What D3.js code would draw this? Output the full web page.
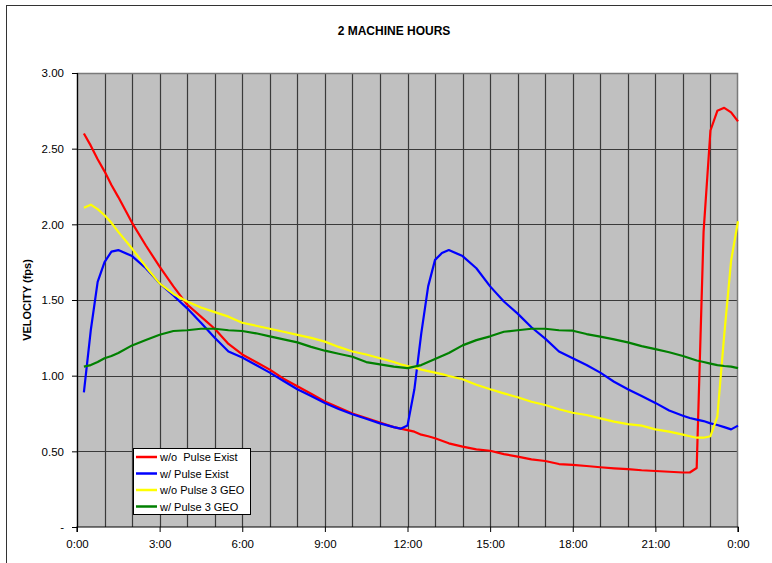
<!DOCTYPE html>
<html>
<head>
<meta charset="utf-8">
<script src="https://cdn.jsdelivr.net/npm/d3@7"></script>
<style>
  body { margin: 0; background: #fff; }
  text { font-family: "Liberation Sans", Arial, sans-serif; }
</style>
</head>
<body>
<div id="chart"></div>
<script>
// hours of the day (0:00 .. 24:00), finer steps where the curves jump
var hours = [0.25, 0.5, 0.75, 1, 1.25, 1.5, 2, 2.5, 3, 3.5, 4, 4.5, 5, 5.5, 6, 6.5, 7, 7.5, 8, 8.5,
  9, 9.5, 10, 10.5, 11, 11.5, 11.75, 12, 12.25, 12.5, 12.75, 13, 13.25, 13.5, 14, 14.5, 15, 15.5, 16, 16.5,
  17, 17.5, 18, 18.5, 19, 19.5, 20, 20.5, 21, 21.5, 22, 22.25, 22.5, 22.75, 23, 23.25, 23.5, 23.75, 24];

var woPulseExist = [2.60, 2.52, 2.43, 2.35, 2.26, 2.18, 2.01, 1.86, 1.72, 1.59, 1.47, 1.39, 1.31, 1.21, 1.14, 1.09, 1.04, 0.98, 0.93, 0.88,
  0.83, 0.79, 0.75, 0.72, 0.69, 0.66, 0.65, 0.64, 0.63, 0.61, 0.60, 0.586, 0.57, 0.553, 0.531, 0.513, 0.504, 0.482, 0.465, 0.447,
  0.436, 0.416, 0.41, 0.403, 0.395, 0.388, 0.383, 0.375, 0.37, 0.365, 0.36, 0.36, 0.39, 1.95, 2.62, 2.75, 2.77, 2.74, 2.68];

var wPulseExist = [0.89, 1.30, 1.62, 1.75, 1.82, 1.83, 1.79, 1.71, 1.61, 1.53, 1.445, 1.35, 1.25, 1.16, 1.12, 1.07, 1.02, 0.965, 0.91, 0.865,
  0.82, 0.78, 0.745, 0.715, 0.685, 0.66, 0.65, 0.67, 0.91, 1.28, 1.59, 1.765, 1.81, 1.83, 1.79, 1.71, 1.59, 1.49, 1.41, 1.32,
  1.245, 1.16, 1.115, 1.07, 1.02, 0.96, 0.91, 0.865, 0.82, 0.77, 0.735, 0.72, 0.71, 0.70, 0.685, 0.674, 0.66, 0.645, 0.67];

var woPulse3Geo = [2.11, 2.13, 2.10, 2.06, 2.01, 1.95, 1.84, 1.72, 1.61, 1.54, 1.49, 1.45, 1.42, 1.39, 1.35, 1.33, 1.31, 1.29, 1.27, 1.25,
  1.225, 1.19, 1.16, 1.14, 1.115, 1.09, 1.075, 1.064, 1.055, 1.04, 1.03, 1.02, 1.01, 0.998, 0.976, 0.94, 0.91, 0.883, 0.857, 0.828,
  0.806, 0.778, 0.755, 0.74, 0.718, 0.696, 0.68, 0.67, 0.645, 0.63, 0.61, 0.60, 0.59, 0.59, 0.60, 0.73, 1.27, 1.76, 2.02];

var wPulse3Geo = [1.06, 1.07, 1.09, 1.115, 1.13, 1.15, 1.20, 1.236, 1.27, 1.295, 1.30, 1.31, 1.31, 1.30, 1.295, 1.28, 1.26, 1.24, 1.22, 1.19,
  1.165, 1.145, 1.125, 1.09, 1.075, 1.06, 1.055, 1.05, 1.06, 1.07, 1.09, 1.11, 1.13, 1.15, 1.20, 1.235, 1.26, 1.29, 1.30, 1.31,
  1.31, 1.30, 1.297, 1.275, 1.258, 1.24, 1.22, 1.195, 1.175, 1.155, 1.13, 1.115, 1.10, 1.09, 1.08, 1.07, 1.064, 1.06, 1.05];

var seriesNames = ["w/o  Pulse Exist", "w/ Pulse Exist", "w/o Pulse 3 GEO", "w/ Pulse 3 GEO"];
var seriesValues = [woPulseExist, wPulseExist, woPulse3Geo, wPulse3Geo];
var colors = ["#ff0000", "#0000ff", "#ffff00", "#008000"];

var yTicks = [0, 0.5, 1, 1.5, 2, 2.5, 3];
var xTicks = [0, 3, 6, 9, 12, 15, 18, 21, 24];
var xTickLabels = ["0:00", "3:00", "6:00", "9:00", "12:00", "15:00", "18:00", "21:00", "0:00"];

var W = 772, H = 563;
var margin = {top: 73, right: 34, bottom: 36, left: 77};
var width = W - margin.left - margin.right;
var height = H - margin.top - margin.bottom;

var svg = d3.select("#chart").append("svg").attr("width", W).attr("height", H);

// outer chart border
svg.append("rect")
  .attr("x", 6.5).attr("y", 5.5)
  .attr("width", W + 10).attr("height", H + 10)
  .attr("fill", "none").attr("stroke", "#333").attr("stroke-width", 1);

svg.append("text")
  .attr("x", 394).attr("y", 35)
  .attr("text-anchor", "middle")
  .style("font-size", "12px").style("font-weight", "bold")
  .text("2 MACHINE HOURS");

svg.append("text")
  .attr("transform", "translate(31," + (margin.top + height / 2) + ") rotate(-90)")
  .attr("text-anchor", "middle")
  .style("font-size", "11px").style("font-weight", "bold")
  .text("VELOCITY (fps)");

var g = svg.append("g").attr("transform", "translate(" + margin.left + "," + margin.top + ")");

var x = d3.scaleLinear().domain([0, 24]).range([0, width]);
var y = d3.scaleLinear().domain([0, 3]).range([height, 0]);

// plot background
g.append("rect")
  .attr("width", width).attr("height", height)
  .attr("fill", "#c0c0c0");

// hourly vertical grid
g.selectAll(".vgrid")
  .data(d3.range(1, 24))
  .enter().append("line")
  .attr("class", "vgrid")
  .attr("x1", function (d) { return Math.round(x(d)) + 0.5; })
  .attr("x2", function (d) { return Math.round(x(d)) + 0.5; })
  .attr("y1", 0).attr("y2", height)
  .attr("stroke", "#3a3a3a").attr("stroke-width", 1.2);

// horizontal grid
g.selectAll(".hgrid")
  .data(yTicks.slice(1, -1))
  .enter().append("line")
  .attr("class", "hgrid")
  .attr("x1", 0).attr("x2", width)
  .attr("y1", function (d) { return Math.round(y(d)) + 0.5; })
  .attr("y2", function (d) { return Math.round(y(d)) + 0.5; })
  .attr("stroke", "#3a3a3a").attr("stroke-width", 1.2);

// plot frame (top/right grey)
g.append("path")
  .attr("d", "M0.5," + height + "V0.5H" + (width - 0.5) + "V" + height)
  .attr("fill", "none").attr("stroke", "#7a7a7a").attr("stroke-width", 1.5);

// axes
var yAxis = d3.axisLeft(y).tickValues(yTicks).tickSize(5).tickPadding(8)
  .tickFormat(function (d) { return d === 0 ? "-" : d3.format(".2f")(d); });
var xAxis = d3.axisBottom(x).tickValues(xTicks).tickSize(5).tickPadding(8)
  .tickFormat(function (d, i) { return xTickLabels[i]; });

var ya = g.append("g").call(yAxis);
var xa = g.append("g").attr("transform", "translate(0," + height + ")").call(xAxis);
[ya, xa].forEach(function (a) {
  a.select(".domain").attr("stroke", "#000").attr("stroke-width", 1.2);
  a.selectAll(".tick line").attr("stroke", "#000");
  a.selectAll("text").style("font-size", "11.5px").attr("fill", "#000")
    .style("font-family", "'Liberation Sans', Arial, sans-serif");
});
xa.select(".domain").attr("d", "M0,5V0H" + width + "V5");

// series lines
var line = d3.line()
  .x(function (d) { return x(d[0]); })
  .y(function (d) { return y(d[1]); });

seriesValues.forEach(function (vals, i) {
  var pts = hours.map(function (h, j) { return [h, vals[j]]; });
  g.append("path")
    .datum(pts)
    .attr("d", line)
    .attr("fill", "none")
    .attr("stroke", colors[i])
    .attr("stroke-width", 2.2)
    .attr("stroke-linejoin", "round");
});

// legend
var lg = svg.append("g").attr("transform", "translate(133,448)");
lg.append("rect")
  .attr("x", 0.5).attr("y", 0.5).attr("width", 117).attr("height", 66)
  .attr("fill", "#fff").attr("stroke", "#000").attr("stroke-width", 1);
seriesNames.forEach(function (name, i) {
  var ly = 9 + i * 16.5;
  lg.append("line")
    .attr("x1", 3).attr("x2", 24).attr("y1", ly).attr("y2", ly)
    .attr("stroke", colors[i]).attr("stroke-width", 2.5);
  lg.append("text")
    .attr("x", 27).attr("y", ly + 4)
    .style("font-size", "11px")
    .style("white-space", "pre")
    .attr("xml:space", "preserve")
    .text(name);
});
</script>
</body>
</html>
